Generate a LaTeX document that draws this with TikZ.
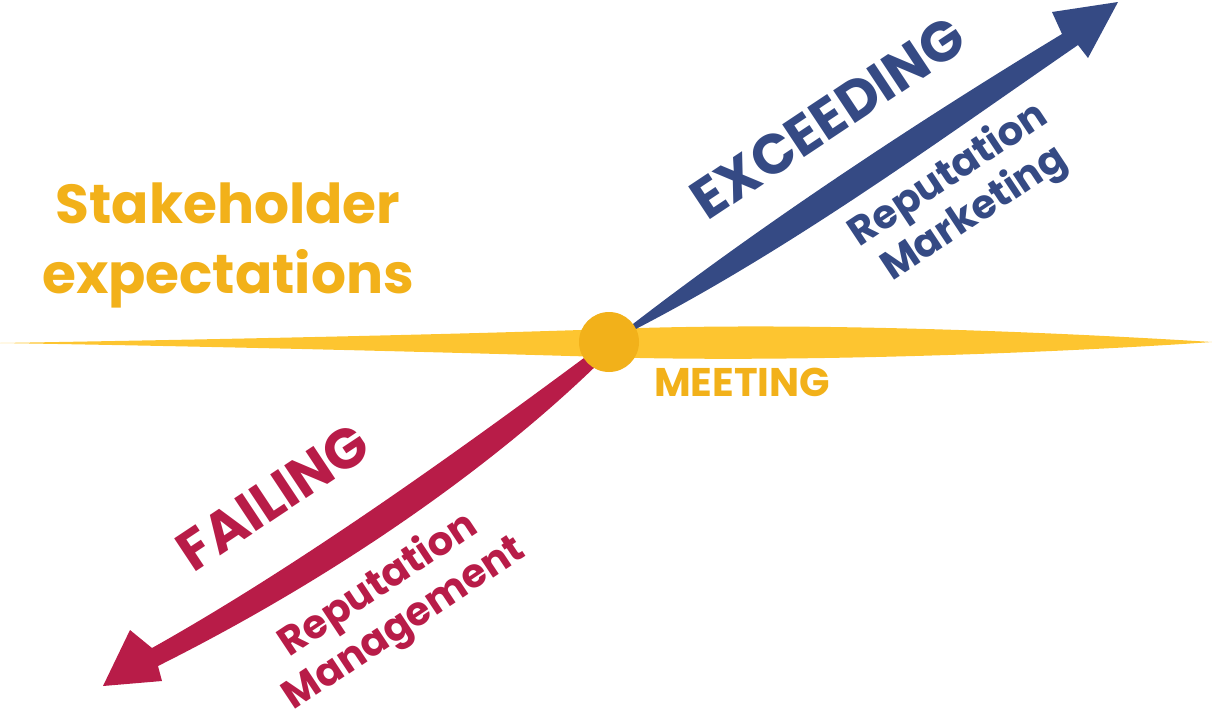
\documentclass[tikz,border=0pt]{standalone}
\usepackage{fontspec}
\setmainfont{Poppins}
\definecolor{yel}{HTML}{FDC530}
\definecolor{dot}{HTML}{F2B11A}
\definecolor{blu}{HTML}{354A84}
\definecolor{red}{HTML}{B81C48}
\tikzset{lab/.style={font=\bfseries, align=center, inner sep=0pt}}
\begin{document}
\begin{tikzpicture}[x=1pt,y=-1pt]
\useasboundingbox (0,0) rectangle (1212,726);
% yellow spindle
\fill[yel] (0,343) .. controls (300,338) and (500,333) .. (640,328)
  .. controls (850,322) and (1100,335) .. (1212,342)
  .. controls (1100,350) and (850,362) .. (640,358)
  .. controls (500,354) and (300,348) .. (0,343) -- cycle;
% blue arrow
\fill[blu] (620,334) .. controls (760,225) and (920,120) .. (1062,34)
  -- (1052,12) -- (1118,2) -- (1088,58) -- (1078,45)
  .. controls (940,140) and (790,250) .. (630,332) -- cycle;
% red arrow
\fill[red] (592,352) .. controls (460,450) and (300,565) .. (152,648)
  -- (130,630) -- (103,686) -- (162,681) -- (158,666)
  .. controls (330,580) and (490,470) .. (602,360) -- cycle;
\node[circle,fill=dot,minimum size=60pt,inner sep=0pt] (c) at (609,342) {};
\node[lab,text=dot,font=\bfseries\fontsize{55}{70}\selectfont] (se) at (228,245) {Stakeholder\\expectations};
\node[lab,text=dot,font=\bfseries\fontsize{40}{44}\selectfont] (me) at (742,382) {MEETING};
\node[lab,text=blu,rotate=33.6,font=\bfseries\fontsize{56}{60}\selectfont] (ex) at (828,118) {EXCEEDING};
\node[lab,text=blu,rotate=33.6,font=\bfseries\fontsize{40}{46}\selectfont] (rm) at (962,195) {Reputation\\Marketing};
\node[lab,text=red,rotate=33.6,font=\bfseries\fontsize{56}{60}\selectfont] (fa) at (273,497) {FAILING};
\node[lab,text=red,rotate=33.6,font=\bfseries\fontsize{40}{46}\selectfont] (rg) at (392,605) {Reputation\\Management};
\end{tikzpicture}
\end{document}
